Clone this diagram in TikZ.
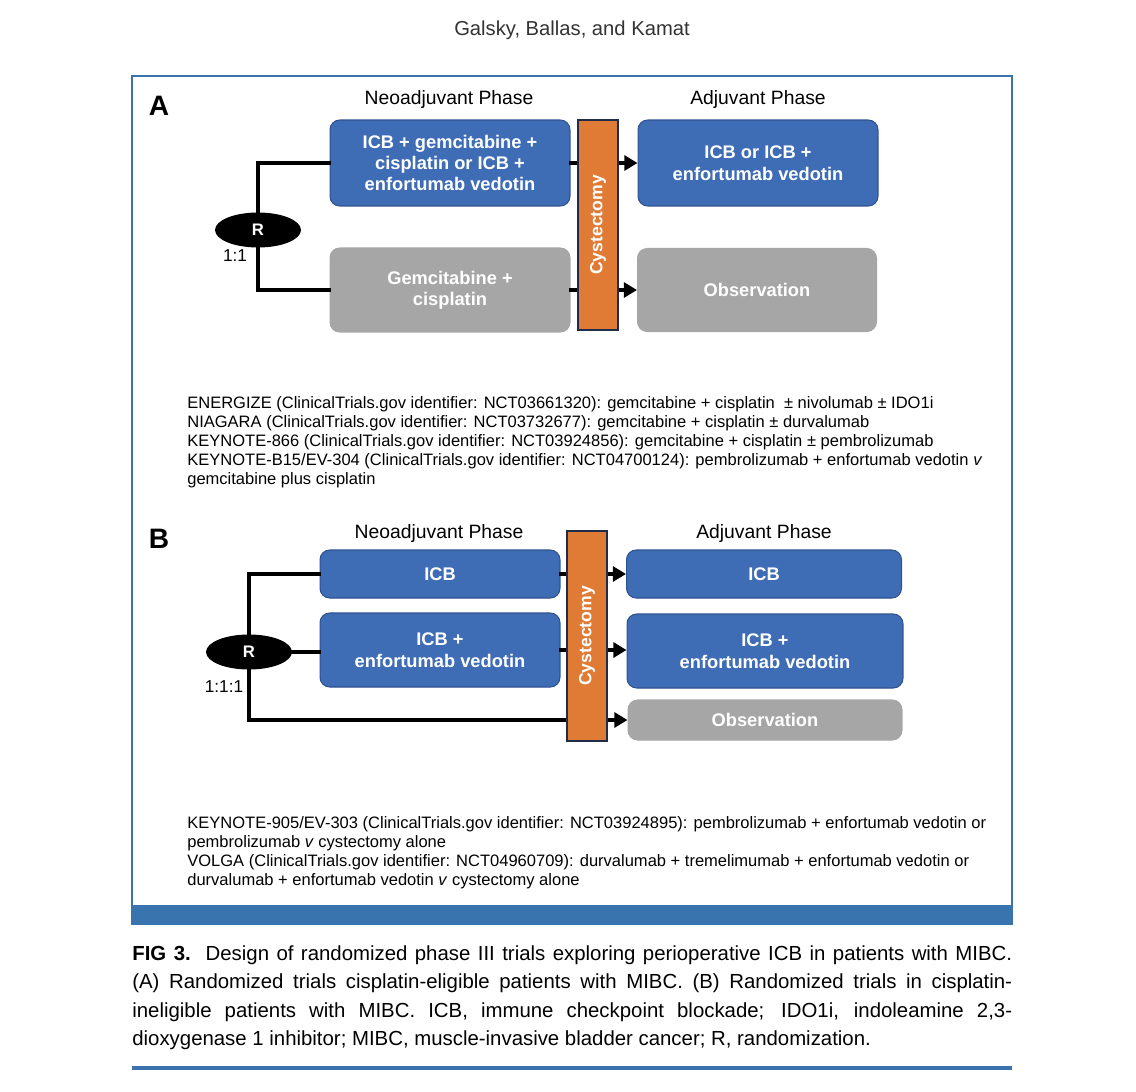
\documentclass[tikz,border=0pt]{standalone}
\usepackage{fontspec}
\setmainfont{Liberation Sans}
\usepackage{tikz}
\usetikzlibrary{positioning,arrows.meta,shapes.geometric,backgrounds,calc}

\definecolor{boxblue}{HTML}{3F6DB5}
\definecolor{boxline}{HTML}{2F528F}
\definecolor{boxgray}{HTML}{A6A6A6}
\definecolor{cysorange}{HTML}{E07B35}
\definecolor{cysline}{HTML}{1F2D4A}
\definecolor{frameblue}{HTML}{3A74AE}

\begin{document}
\begin{tikzpicture}[
  x=0.02cm, y=-0.02cm, >={Triangle[length=7.5pt,width=8.5pt]},
  blu/.style={draw=boxline, line width=0.6pt, rounded corners=5.5pt, fill=boxblue,
              text=white, align=center, font=\fontsize{10.4}{12.2}\selectfont\bfseries},
  gry/.style={blu, draw=boxgray, fill=boxgray},
  cys/.style={draw=cysline, line width=1pt, fill=cysorange, text=white,
              minimum width=0.8cm, minimum height=4.2cm,
              font=\fontsize{10}{12}\selectfont\bfseries},
  rnd/.style={ellipse, fill=black, text=white, minimum width=1.72cm,
              minimum height=0.7cm, inner sep=0pt, font=\fontsize{9.5}{11}\selectfont\bfseries},
  phase/.style={font=\fontsize{11}{13}\selectfont},
  ratio/.style={font=\fontsize{9.8}{12}\selectfont},
  panel/.style={font=\fontsize{16}{18}\selectfont\bfseries},
  notes/.style={anchor=north west, inner sep=0pt, align=left,
                font=\fontsize{9.4}{10.9}\selectfont},
  lin/.style={line width=2.2pt, line cap=rect},
  arr/.style={lin, ->},
]
\useasboundingbox (0,0) rectangle (1136,1092);
\fill[white] (0,0) rectangle (1136,1092);

% header and frame
\node[font=\fontsize{11.5}{14}\selectfont, text=black!80] (head) at (572,30) {Galsky, Ballas, and Kamat};
\draw[frameblue, line width=0.8pt] (132,76) rectangle (1012,924);
\fill[frameblue] (132,905) rectangle (1012,924);

% panel A
\node[panel] (labA) at (159,106) {A};
\node[phase] (neoA) at (449,100) {Neoadjuvant Phase};
\node[phase] (adjA) at (758,100) {Adjuvant Phase};
\node[blu, minimum width=4.8cm, minimum height=1.72cm] (neoA1) at (450,163)
  {ICB + gemcitabine +\\cisplatin or ICB +\\enfortumab vedotin};
\node[gry, minimum width=4.8cm, minimum height=1.68cm] (neoA2) at (450,290)
  {Gemcitabine +\\cisplatin};
\node[blu, minimum width=4.8cm, minimum height=1.72cm] (adjA1) at (758,163)
  {ICB or ICB +\\enfortumab vedotin};
\node[gry, minimum width=4.78cm, minimum height=1.66cm] (adjA2) at (757,290)
  {Observation};
\node[rnd] (rA) at (258,230) {R};
\node[ratio] (ratA) at (235,256) {1:1};

\draw[lin] (neoA1.west) -| (rA.north);
\draw[lin] (rA.south) |- (neoA2.west);
\draw[arr] (neoA1.east) -- (adjA1.west);
\draw[arr] (neoA2.east) -- (adjA2.west);
\node[cys] (cysA) at (598,225) {\rotatebox{90}{Cystectomy}};

\node[notes] (txtA) at (187,396)
  {ENERGIZE (ClinicalTrials.gov identifier: NCT03661320): gemcitabine + cisplatin \ ± nivolumab ± IDO1i\\
   NIAGARA (ClinicalTrials.gov identifier: NCT03732677): gemcitabine + cisplatin ± durvalumab\\
   KEYNOTE-866 (ClinicalTrials.gov identifier: NCT03924856): gemcitabine + cisplatin ± pembrolizumab\\
   KEYNOTE-B15/EV-304 (ClinicalTrials.gov identifier: NCT04700124): pembrolizumab + enfortumab vedotin \textit{v}\\
   gemcitabine plus cisplatin};

% panel B
\node[panel] (labB) at (159,539) {B};
\node[phase] (neoB) at (439,533) {Neoadjuvant Phase};
\node[phase] (adjB) at (764,533) {Adjuvant Phase};
\node[blu, minimum width=4.8cm, minimum height=0.96cm] (neoB1) at (440,574) {ICB};
\node[blu, minimum width=4.8cm, minimum height=1.48cm] (neoB2) at (440,650)
  {ICB +\\enfortumab vedotin};
\node[blu, minimum width=5.5cm, minimum height=0.96cm] (adjB1) at (764,574) {ICB};
\node[blu, minimum width=5.52cm, minimum height=1.48cm] (adjB2) at (765,651)
  {ICB +\\enfortumab vedotin};
\node[gry, minimum width=5.48cm, minimum height=0.8cm] (obsB) at (765,720) {Observation};
\node[rnd] (rB) at (249,652) {R};
\node[ratio] (ratB) at (224,687) {1:1:1};

\draw[lin] (neoB1.west) -| (rB.north);
\draw[lin] (rB.east) -- (rB.east -| neoB2.west);
\draw[arr] (rB.south) |- (obsB.west);
\draw[arr] (neoB1.east) -- (adjB1.west);
\draw[arr] (neoB2.east) -- (neoB2.east -| adjB2.west);
\node[cys] (cysB) at (587,636) {\rotatebox{90}{Cystectomy}};

\node[notes] (txtB) at (187,816)
  {KEYNOTE-905/EV-303 (ClinicalTrials.gov identifier: NCT03924895): pembrolizumab + enfortumab vedotin or\\
   pembrolizumab \textit{v} cystectomy alone\\
   VOLGA (ClinicalTrials.gov identifier: NCT04960709): durvalumab + tremelimumab + enfortumab vedotin or\\
   durvalumab + enfortumab vedotin \textit{v} cystectomy alone};

% caption
\node[anchor=north west, inner sep=0pt, text width=17.6cm, align=justify,
      font=\fontsize{11.6}{16.2}\selectfont] (cap) at (132,945)
  {\textbf{FIG 3.}\ \ Design of randomized phase III trials exploring perioperative ICB in patients with MIBC.\linebreak
   (A) Randomized trials cisplatin-eligible patients with MIBC. (B) Randomized trials in cisplatin-\linebreak
   ineligible patients with MIBC. ICB, immune checkpoint blockade; IDO1i, indoleamine 2,3-\linebreak
   dioxygenase 1 inhibitor; MIBC, muscle-invasive bladder cancer; R, randomization.};
\draw[frameblue, line width=1.8pt] (132,1068) -- (1012,1068);
\end{tikzpicture}
\end{document}
